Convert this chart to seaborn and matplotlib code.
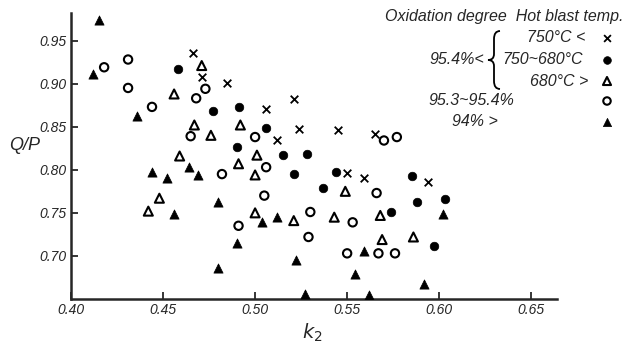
import numpy as np
import pandas as pd
import matplotlib
matplotlib.use("Agg")
import matplotlib.pyplot as plt
from matplotlib.path import Path
from matplotlib.patches import PathPatch
import seaborn as sns

# ---- data ----
cat_labels = ["750°C <", "750~680°C", "680°C >", "95.3~95.4%", "94% >"]

x_cross = [0.466, 0.471, 0.485, 0.506, 0.512, 0.521, 0.524, 0.545, 0.565, 0.550, 0.559, 0.594]
y_cross = [0.936, 0.908, 0.901, 0.870, 0.834, 0.882, 0.847, 0.846, 0.841, 0.796, 0.790, 0.786]

x_fcirc = [0.458, 0.477, 0.491, 0.490, 0.506, 0.515, 0.528, 0.521, 0.544, 0.537, 0.585, 0.588, 0.603, 0.574, 0.597]
y_fcirc = [0.917, 0.868, 0.873, 0.827, 0.849, 0.817, 0.818, 0.795, 0.797, 0.779, 0.793, 0.763, 0.766, 0.751, 0.712]

x_otri = [0.471, 0.456, 0.467, 0.476, 0.492, 0.459, 0.491, 0.501, 0.500, 0.549, 0.442, 0.448, 0.500, 0.521, 0.543, 0.568, 0.586, 0.569]
y_otri = [0.921, 0.888, 0.852, 0.840, 0.852, 0.816, 0.807, 0.817, 0.794, 0.775, 0.752, 0.767, 0.750, 0.741, 0.745, 0.747, 0.722, 0.719]

x_ocirc = [0.418, 0.431, 0.431, 0.473, 0.468, 0.444, 0.465, 0.500, 0.482, 0.506, 0.570, 0.577, 0.566, 0.505, 0.491, 0.530, 0.529, 0.553, 0.550, 0.567, 0.576]
y_ocirc = [0.919, 0.928, 0.895, 0.894, 0.883, 0.873, 0.839, 0.838, 0.795, 0.803, 0.834, 0.838, 0.773, 0.770, 0.735, 0.751, 0.722, 0.739, 0.703, 0.703, 0.703]

x_ftri = [0.415, 0.412, 0.436, 0.444, 0.452, 0.464, 0.469, 0.456, 0.480, 0.504, 0.512, 0.490, 0.522, 0.480, 0.527, 0.602, 0.559, 0.554, 0.592, 0.562]
y_ftri = [0.974, 0.911, 0.863, 0.798, 0.791, 0.803, 0.794, 0.749, 0.763, 0.739, 0.745, 0.715, 0.695, 0.686, 0.656, 0.749, 0.706, 0.679, 0.667, 0.655]

x_ticks = [0.40, 0.45, 0.50, 0.55, 0.60, 0.65]
y_ticks = [0.70, 0.75, 0.80, 0.85, 0.90, 0.95]

# ---- styling ----
sns.set_style("ticks")
plt.rcParams['font.family'] = ['Liberation Sans Narrow', 'Liberation Sans', 'DejaVu Sans']

fig = plt.figure(figsize=(6.41, 3.43), dpi=100)
ax = fig.add_axes([71/641, 1-299/343, (557-71)/641, (299-13)/343])

series = [
    (x_cross, y_cross, dict(marker='x', s=30, color='black', linewidth=1.3)),
    (x_fcirc, y_fcirc, dict(marker='o', s=38, color='black', edgecolor='black', linewidth=0.5)),
    (x_otri, y_otri, dict(marker='^', s=42, facecolor='none', edgecolor='black', linewidth=1.5)),
    (x_ocirc, y_ocirc, dict(marker='o', s=36, facecolor='none', edgecolor='black', linewidth=1.5)),
    (x_ftri, y_ftri, dict(marker='^', s=44, color='black', edgecolor='black', linewidth=0.5)),
]
for (xs, ys, kw), lab in zip(series, cat_labels):
    df = pd.DataFrame({"k2": xs, "qp": ys})
    sns.scatterplot(data=df, x="k2", y="qp", ax=ax, legend=False, zorder=3, **kw)

ax.set_xlim(0.40, 0.664)
ax.set_ylim(0.65, 0.982)
ax.set_xticks(x_ticks)
ax.set_yticks(y_ticks)
ax.set_xticklabels([f"{v:.2f}" for v in x_ticks], fontstyle='italic', fontsize=10)
ax.set_yticklabels([f"{v:.2f}" for v in y_ticks], fontstyle='italic', fontsize=10)
ax.tick_params(direction='in', length=5, width=1.3, pad=3)
for s in ['top', 'right']:
    ax.spines[s].set_visible(False)
for s in ['left', 'bottom']:
    ax.spines[s].set_linewidth(1.8)
ax.set_xlabel("")
ax.set_ylabel("")

fig.text(25/641, 1-145/343, "Q/P", fontstyle='italic', fontsize=13, ha='center', va='center')
fig.text(312/641, 1-333/343, "$k_2$", fontsize=14, ha='center', va='center')

# ---- legend block ----
def fx(px):
    return px/641
def fy(py):
    return 1-py/343

fs = 11.5
fig.text(fx(385), fy(17), "Oxidation degree  Hot blast temp.", fontstyle='italic', fontsize=fs, ha='left', va='center')
fig.text(fx(585), fy(38), "750°C <", fontstyle='italic', fontsize=fs, ha='right', va='center')
fig.text(fx(484), fy(60), "95.4%<", fontstyle='italic', fontsize=fs, ha='right', va='center')
fig.text(fx(502), fy(60), "750~680°C", fontstyle='italic', fontsize=fs, ha='left', va='center')
fig.text(fx(588), fy(81), "680°C >", fontstyle='italic', fontsize=fs, ha='right', va='center')
fig.text(fx(428), fy(101), "95.3~95.4%", fontstyle='italic', fontsize=fs, ha='left', va='center')
fig.text(fx(452), fy(122), "94% >", fontstyle='italic', fontsize=fs, ha='left', va='center')

# curly brace drawn as a path
bp = [(500, 31), (494, 31), (494, 39), (494, 54), (494, 60), (488, 60),
      (494, 60), (494, 66), (494, 81), (494, 89), (500, 89)]
codes = [Path.MOVETO, Path.CURVE3, Path.CURVE3, Path.LINETO, Path.CURVE3, Path.CURVE3,
         Path.CURVE3, Path.CURVE3, Path.LINETO, Path.CURVE3, Path.CURVE3]
brace = Path([(fx(a), fy(b)) for a, b in bp], codes)
fig.patches.append(PathPatch(brace, transform=fig.transFigure, facecolor='none',
                             edgecolor='black', linewidth=1.3))

leg_y = [38, 60, 81, 101, 122]
for (xs, ys, kw), py in zip(series, leg_y):
    kw2 = dict(kw)
    kw2['s'] = kw2['s'] * 0.8
    ax.scatter([fx(607)], [fy(py)], transform=fig.transFigure, clip_on=False, zorder=5, **kw2)

fig.savefig("out.png", dpi=100)
